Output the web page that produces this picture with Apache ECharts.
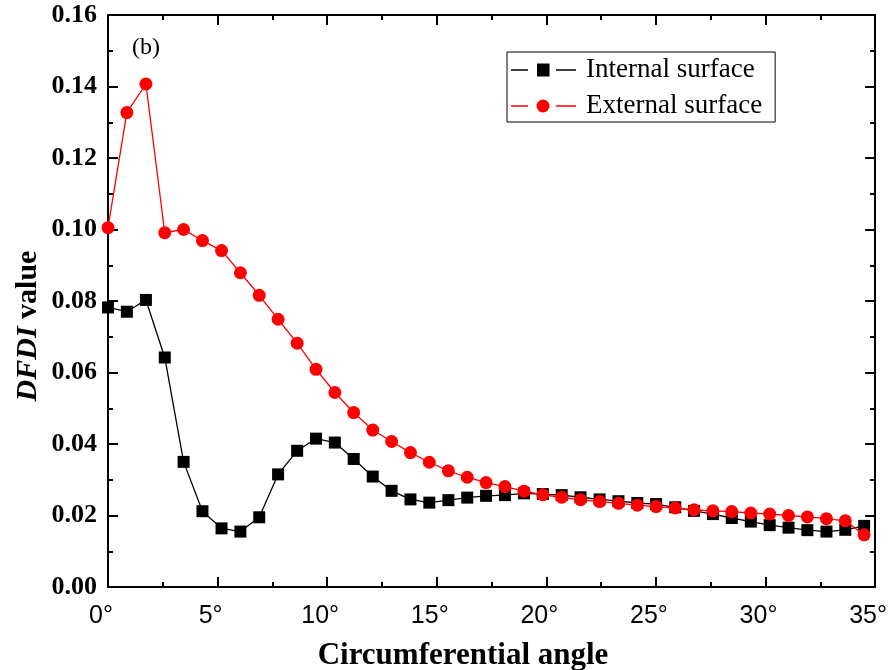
<!DOCTYPE html>
<html>
<head>
<meta charset="utf-8">
<script src="https://cdn.jsdelivr.net/npm/echarts@6/dist/echarts.min.js"></script>
<style>
html,body{margin:0;padding:0;background:#fff;}
#main{width:890px;height:670px;}
</style>
</head>
<body>
<div id="main"></div>
<script>
// Circumferential angle (degrees)
const angles = [0, 0.86, 1.73, 2.59, 3.45, 4.31, 5.18, 6.04, 6.90, 7.76, 8.63, 9.49, 10.35, 11.21, 12.08, 12.94, 13.80, 14.66, 15.53, 16.39, 17.25, 18.11, 18.98, 19.84, 20.70, 21.56, 22.43, 23.29, 24.15, 25.01, 25.88, 26.74, 27.60, 28.46, 29.33, 30.19, 31.05, 31.91, 32.78, 33.64, 34.50];
// DFDI value, internal surface
const internalSurface = [0.0782, 0.0770, 0.0803, 0.0642, 0.0350, 0.0212, 0.0164, 0.0155, 0.0195, 0.0315, 0.0381, 0.0415, 0.0404, 0.0358, 0.0309, 0.0269, 0.0245, 0.0236, 0.0243, 0.0250, 0.0255, 0.0257, 0.0262, 0.0260, 0.0257, 0.0251, 0.0245, 0.0240, 0.0235, 0.0232, 0.0223, 0.0213, 0.0204, 0.0193, 0.0183, 0.0173, 0.0166, 0.0159, 0.0155, 0.0160, 0.0171];
// DFDI value, external surface
const externalSurface = [0.1005, 0.1327, 0.1407, 0.0991, 0.1000, 0.0969, 0.0941, 0.0879, 0.0816, 0.0749, 0.0682, 0.0609, 0.0544, 0.0488, 0.0439, 0.0407, 0.0376, 0.0349, 0.0325, 0.0307, 0.0292, 0.0281, 0.0268, 0.0258, 0.0251, 0.0244, 0.0239, 0.0234, 0.0229, 0.0225, 0.0221, 0.0216, 0.0213, 0.0211, 0.0207, 0.0204, 0.0200, 0.0196, 0.0191, 0.0185, 0.0146];
const seriesNames = ['Internal surface', 'External surface'];
const xTicks = [0, 5, 10, 15, 20, 25, 30, 35];
const yTicks = [0.00, 0.02, 0.04, 0.06, 0.08, 0.10, 0.12, 0.14, 0.16];

const SERIF = '"Liberation Serif", "Times New Roman", serif';
const SANS = '"Liberation Sans", Arial, sans-serif';

const chart = echarts.init(document.getElementById('main'), null, {renderer: 'canvas'});

const axisLine = {show: true, onZero: false, lineStyle: {color: '#000', width: 2}};
const axisTick = {show: true, inside: true, length: 10, lineStyle: {color: '#000', width: 2}};
const minorTick = {show: true, splitNumber: 2, length: 5, lineStyle: {color: '#000', width: 2}};

const xMin = xTicks[0], xMax = xTicks[xTicks.length - 1], xInt = xTicks[1] - xTicks[0];
const yMin = yTicks[0], yMax = yTicks[yTicks.length - 1], yInt = yTicks[1] - yTicks[0];

// legend icons: line - marker - line (with gaps), drawn in a 65 x 13 box
const iconSquare = 'path://M0,5.8h17v1.4h-17Z M26,0h12.5v13h-12.5Z M45,5.8h20v1.4h-20Z';
const iconCircle = 'path://M0,5.8h17v1.4h-17Z M38.5,6.5a6.5,6.5 0 1,0 -13,0a6.5,6.5 0 1,0 13,0Z M45,5.8h20v1.4h-20Z';

chart.setOption({
  animation: false,
  backgroundColor: '#fff',
  grid: {left: 108, right: 13, top: 15, bottom: 83, containLabel: false},
  xAxis: [
    {type: 'value', position: 'bottom', min: xMin, max: xMax, interval: xInt,
     axisLine, axisTick, minorTick, splitLine: {show: false},
     axisLabel: {show: true, margin: 17, color: '#000', fontFamily: SANS, fontSize: 25,
       padding: [0, 14, 0, 0], formatter: v => v + '°'}},
    {type: 'value', position: 'top', min: xMin, max: xMax, interval: xInt,
     axisLine, axisTick, minorTick, splitLine: {show: false}, axisLabel: {show: false}}
  ],
  yAxis: [
    {type: 'value', position: 'left', min: yMin, max: yMax, interval: yInt,
     axisLine, axisTick, minorTick, splitLine: {show: false},
     axisLabel: {show: true, margin: 11, color: '#000', fontFamily: SERIF, fontWeight: 'bold', fontSize: 26,
       formatter: v => v.toFixed(2)}},
    {type: 'value', position: 'right', min: yMin, max: yMax, interval: yInt,
     axisLine, axisTick, minorTick, splitLine: {show: false}, axisLabel: {show: false}}
  ],
  legend: {
    orient: 'vertical', left: 507, top: 52,
    borderColor: '#000', borderWidth: 1, borderRadius: 0,
    padding: [3, 13, 1, 4],
    itemWidth: 65, itemHeight: 13, itemGap: 6,
    textStyle: {fontFamily: SERIF, fontSize: 27, color: '#000', lineHeight: 30, padding: [0, 0, 0, 5]},
    data: [{name: seriesNames[0], icon: iconSquare}, {name: seriesNames[1], icon: iconCircle}]
  },
  series: [
    {name: seriesNames[0], type: 'line', xAxisIndex: 0, yAxisIndex: 0,
     data: angles.map((a, i) => [a, internalSurface[i]]),
     symbol: 'rect', symbolSize: 12,
     itemStyle: {color: '#000'}, lineStyle: {color: '#000', width: 1.3}, z: 2},
    {name: seriesNames[1], type: 'line', xAxisIndex: 0, yAxisIndex: 0,
     data: angles.map((a, i) => [a, externalSurface[i]]),
     symbol: 'circle', symbolSize: 13,
     itemStyle: {color: '#ff0000'}, lineStyle: {color: '#ff0000', width: 1.3}, z: 3}
  ],
  graphic: [
    {type: 'text', left: 132, top: 36,
     style: {text: '(b)', font: '24px ' + SERIF, fill: '#000'}},
    {type: 'text', x: 463, y: 656,
     style: {text: 'Circumferential angle', font: 'bold 31px ' + SERIF, fill: '#000',
       align: 'center', verticalAlign: 'middle'}},
    {type: 'text', x: 28, y: 326, rotation: Math.PI / 2,
     style: {text: '{i|DFDI} value', font: 'bold 30px ' + SERIF, fill: '#000',
       align: 'center', verticalAlign: 'middle',
       rich: {i: {fontStyle: 'italic', fontWeight: 'bold', fontSize: 30, fontFamily: SERIF}}}}
  ]
});
</script>
</body>
</html>
